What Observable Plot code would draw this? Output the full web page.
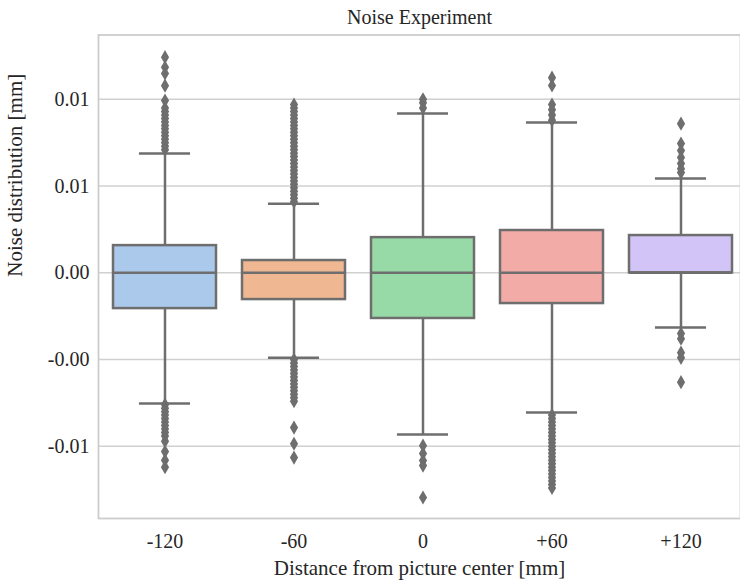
<!DOCTYPE html>
<html>
<head>
<meta charset="utf-8">
<script src="https://cdn.jsdelivr.net/npm/d3@7"></script>
<script src="https://cdn.jsdelivr.net/npm/@observablehq/plot@0.6"></script>
<style>
  html, body { margin: 0; padding: 0; background: #fff; }
  #chart svg { display: block; }
  #chart svg text { font-family: 'Liberation Serif', 'DejaVu Serif', serif; }
</style>
</head>
<body>
<div id="chart"></div>
<script>
// ---- data ----
const title = "Noise Experiment";
const xLabel = "Distance from picture center [mm]";
const yLabel = "Noise distribution [mm]";
const groups = ["-120", "-60", "0", "+60", "+120"];
const colors = ["#abc9ea", "#efb792", "#98daa7", "#f3aba8", "#d3c4f7"];

const q1      = [-0.00206, -0.00154, -0.00263, -0.00177, 0.00000];
const median  = [ 0.00000,  0.00000,  0.00000,  0.00000, 0.00000];
const q3      = [ 0.00157,  0.00071,  0.00203,  0.00244, 0.00215];
const whiskLo = [-0.00753, -0.00490, -0.00932, -0.00805, -0.00315];
const whiskHi = [ 0.00688,  0.00399,  0.00918,  0.00866, 0.00544];

const outliersM120 = [0.01243, 0.01185, 0.01149, 0.01079, 0.00993, 0.0095, 0.0093, 0.0091, 0.0089, 0.0087,
  0.0085, 0.0083, 0.0081, 0.0079, 0.0077, 0.0075, 0.0073, 0.0071,
  -0.0076, -0.0078, -0.0080, -0.0082, -0.0084, -0.0086, -0.0088, -0.0090, -0.0092, -0.0094,
  -0.0097, -0.0103, -0.0108, -0.0112];
const outliersM60 = [0.0041, 0.0043, 0.0045, 0.0047, 0.0049, 0.0051, 0.0053, 0.0055, 0.0057, 0.0059,
  0.0061, 0.0063, 0.0065, 0.0067, 0.0069, 0.0071, 0.0073, 0.0075, 0.0077, 0.0079,
  0.0081, 0.0083, 0.0085, 0.0087, 0.0089, 0.0091, 0.0093, 0.0095, 0.0097,
  -0.0050, -0.0052, -0.0054, -0.0056, -0.0058, -0.0060, -0.0062, -0.0064, -0.0066, -0.0068,
  -0.0070, -0.0072, -0.0074, -0.00892, -0.00985, -0.01065];
const outliers0 = [0.0100, 0.0098, 0.0095,
  -0.00996, -0.01042, -0.01082, -0.01111, -0.01295];
const outliersP60 = [0.01125, 0.0108, 0.0097, 0.0094, 0.0091, 0.0088,
  -0.0082, -0.0084, -0.0086, -0.0088, -0.0090, -0.0092, -0.0094, -0.0096, -0.0098, -0.0100,
  -0.0102, -0.0104, -0.0106, -0.0108, -0.0110, -0.0112, -0.0114, -0.0116, -0.0118, -0.0120,
  -0.0122, -0.0124];
const outliersP120 = [0.0086, 0.00745, 0.00705, 0.00665, 0.0063, 0.0060, 0.00578,
  -0.0035, -0.0038, -0.0046, -0.0049, -0.0063];
const outliers = [outliersM120, outliersM60, outliers0, outliersP60, outliersP120];

const yTicks = [0.01, 0.005, 0, -0.005, -0.01];
const yTickLabels = ["0.01", "0.01", "0.00", "-0.00", "-0.01"];

// ---- build tables ----
const stats = groups.map((g, i) => ({
  g, q1: q1[i], med: median[i], q3: q3[i], lo: whiskLo[i], hi: whiskHi[i]
}));
const points = groups.flatMap((g, i) => outliers[i].map(v => ({g, v})));

const serif = "'Liberation Serif', 'DejaVu Serif', serif";
const gray = "#6e6e6e";
const lw = 2.5;
const plotLeft = 98, plotRight = 747;
const bandwidth = (plotRight - plotLeft) / 5 * 0.8;
const capInset = bandwidth / 4;

const chart = Plot.plot({
  width: 740,
  height: 584,
  marginLeft: plotLeft,
  marginRight: 0,
  marginTop: 34.5,
  marginBottom: 66,
  style: {fontFamily: serif, fontSize: "20px", color: "#262626", background: "#fff"},
  x: {domain: groups, range: [plotLeft, plotRight], paddingInner: 0.2, paddingOuter: 0.1, align: 0.5},
  y: {domain: [-0.01416, 0.01371]},
  color: {domain: groups, range: colors},
  marks: [
    Plot.ruleY(yTicks, {stroke: "#d0d0d0", strokeWidth: 1.5}),
    Plot.frame({stroke: "#cccccc", strokeWidth: 1.8}),
    Plot.axisY({ticks: yTicks, tickSize: 0, tickPadding: 9, fontSize: 20, fontFamily: serif,
      tickFormat: d => yTickLabels[yTicks.indexOf(d)], label: null}),
    Plot.axisX({tickSize: 0, tickPadding: 15, fontSize: 20, fontFamily: serif, label: null}),
    Plot.ruleX(stats, {x: "g", y1: "q3", y2: "hi", stroke: gray, strokeWidth: lw}),
    Plot.ruleX(stats, {x: "g", y1: "q1", y2: "lo", stroke: gray, strokeWidth: lw}),
    Plot.barY(stats, {x: "g", y1: "q1", y2: "q3", fill: "g", stroke: gray, strokeWidth: lw}),
    Plot.tickY(stats, {x: "g", y: "med", stroke: gray, strokeWidth: lw}),
    Plot.tickY(stats, {x: "g", y: "hi", stroke: gray, strokeWidth: lw, inset: capInset}),
    Plot.tickY(stats, {x: "g", y: "lo", stroke: gray, strokeWidth: lw, inset: capInset}),
    Plot.dot(points, {x: "g", y: "v", symbol: "diamond", r: 4.3, fill: gray, stroke: "none"}),
    Plot.text([title], {frameAnchor: "top", lineAnchor: "bottom", dy: -11, fontSize: 20, fontFamily: serif, fill: "#262626"}),
    Plot.text([xLabel], {frameAnchor: "bottom", lineAnchor: "bottom", dy: 56, fontSize: 21, fontFamily: serif, fill: "#262626"}),
    Plot.text([yLabel], {frameAnchor: "left", rotate: -90, lineAnchor: "middle", dx: -83, fontSize: 21, fontFamily: serif, fill: "#262626"})
  ]
});
document.getElementById("chart").appendChild(chart);
</script>
</body>
</html>
